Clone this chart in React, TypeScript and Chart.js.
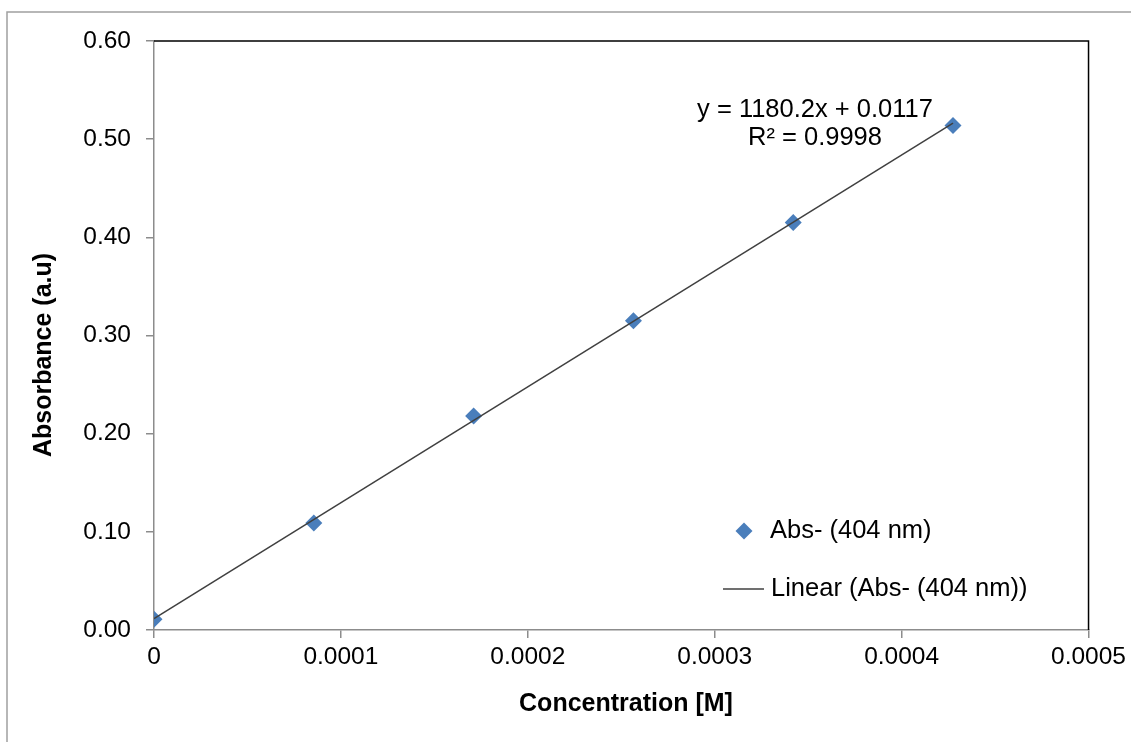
import React, { useEffect, useRef } from "react";
import { Chart, registerables } from "chart.js";

Chart.register(...registerables);

// ---- data ----
const concentration = [0, 0.0000855, 0.000171, 0.0002565, 0.000342, 0.0004275];
const absorbance = [0.011, 0.109, 0.218, 0.315, 0.415, 0.514];
const trendX = [0, 0.0004275];
const trendY = [0.0117, 0.5163];
const xTicks = [0, 0.0001, 0.0002, 0.0003, 0.0004, 0.0005];
const xTickLabels = ["0", "0.0001", "0.0002", "0.0003", "0.0004", "0.0005"];
const yTicks = [0, 0.1, 0.2, 0.3, 0.4, 0.5, 0.6];
const yTickLabels = ["0.00", "0.10", "0.20", "0.30", "0.40", "0.50", "0.60"];
const seriesName = "Abs- (404 nm)";
const trendName = "Linear (Abs- (404 nm))";
const equationLines = ["y = 1180.2x + 0.0117", "R\u00B2 = 0.9998"];
const xTitle = "Concentration [M]";
const yTitle = "Absorbance (a.u)";

const FONT = "'Liberation Sans', Arial, sans-serif";
const MARKER = "#4a7ebb";
const AXIS_GREY = "#8c8c8c";

const decorPlugin = {
  id: "decor",
  beforeDraw(chart: any) {
    const ctx = chart.ctx;
    ctx.save();
    ctx.strokeStyle = "#a0a0a0";
    ctx.lineWidth = 1.5;
    ctx.strokeRect(7, 12, 1200, 800);
    ctx.restore();
  },
  afterDraw(chart: any) {
    const ctx = chart.ctx;
    const { left, right, top, bottom } = chart.chartArea;
    ctx.save();
    // black top/right frame
    ctx.strokeStyle = "#000";
    ctx.lineWidth = 1.5;
    ctx.beginPath();
    ctx.moveTo(left, top);
    ctx.lineTo(right, top);
    ctx.lineTo(right, bottom);
    ctx.stroke();

    // equation text
    ctx.fillStyle = "#000";
    ctx.font = `25.5px ${FONT}`;
    ctx.textAlign = "center";
    ctx.textBaseline = "middle";
    ctx.fillText(equationLines[0], 815, 110);
    ctx.fillText(equationLines[1], 815, 138);

    // legend
    ctx.textAlign = "left";
    ctx.fillStyle = MARKER;
    ctx.beginPath();
    const mx = 744, my = 531, r = 8.5;
    ctx.moveTo(mx, my - r);
    ctx.lineTo(mx + r, my);
    ctx.lineTo(mx, my + r);
    ctx.lineTo(mx - r, my);
    ctx.closePath();
    ctx.fill();
    ctx.fillStyle = "#000";
    ctx.fillText(seriesName, 770, 531);
    ctx.strokeStyle = "#404040";
    ctx.lineWidth = 1.5;
    ctx.beginPath();
    ctx.moveTo(723, 589);
    ctx.lineTo(764, 589);
    ctx.stroke();
    ctx.fillText(trendName, 771, 589);

    // axis titles
    ctx.font = `bold 25px ${FONT}`;
    ctx.textAlign = "center";
    ctx.fillText(xTitle, 626, 704);
    ctx.translate(44, 355);
    ctx.rotate(-Math.PI / 2);
    ctx.fillText(yTitle, 0, 0);
    ctx.restore();
  },
};

export default function App() {
  const ref = useRef<HTMLCanvasElement | null>(null);

  useEffect(() => {
    if (!ref.current) return;
    const tickFont = { family: FONT, size: 24.5 };
    const chart = new Chart(ref.current, {
      type: "scatter",
      data: {
        datasets: [
          {
            label: trendName,
            data: trendX.map((x, i) => ({ x, y: trendY[i] })),
            showLine: true,
            pointRadius: 0,
            borderColor: "#404040",
            borderWidth: 1.5,
            order: 0,
          } as any,
          {
            label: seriesName,
            data: concentration.map((x, i) => ({ x, y: absorbance[i] })),
            pointStyle: "rectRot",
            pointRadius: 8.5,
            pointBackgroundColor: MARKER,
            pointBorderColor: MARKER,
            pointBorderWidth: 0,
            showLine: false,
            order: 1,
          } as any,
        ],
      },
      options: {
        responsive: false,
        animation: false,
        devicePixelRatio: 1,
        layout: { padding: { left: 0, top: 41, right: 41, bottom: 0 } },
        plugins: { legend: { display: false }, tooltip: { enabled: false } },
        scales: {
          x: {
            type: "linear",
            min: 0,
            max: 0.0005,
            afterBuildTicks: (s: any) => {
              s.ticks = xTicks.map((v) => ({ value: v }));
            },
            afterFit: (s: any) => {
              s.height = 112;
            },
            grid: {
              display: true,
              drawOnChartArea: false,
              drawTicks: true,
              tickLength: 8,
              color: AXIS_GREY,
              lineWidth: 1.5,
            },
            border: { display: true, color: AXIS_GREY, width: 1.5 },
            ticks: {
              font: tickFont,
              color: "#000",
              padding: 5,
              maxRotation: 0,
              autoSkip: false,
              callback: (_v: any, i: number) => xTickLabels[i],
            },
          },
          y: {
            type: "linear",
            min: 0,
            max: 0.6,
            afterBuildTicks: (s: any) => {
              s.ticks = yTicks.map((v) => ({ value: v }));
            },
            afterFit: (s: any) => {
              s.width = 154;
            },
            grid: {
              display: true,
              drawOnChartArea: false,
              drawTicks: true,
              tickLength: 8,
              color: AXIS_GREY,
              lineWidth: 1.5,
            },
            border: { display: true, color: AXIS_GREY, width: 1.5 },
            ticks: {
              font: tickFont,
              color: "#000",
              padding: 15,
              autoSkip: false,
              callback: (_v: any, i: number) => yTickLabels[i],
            },
          },
        },
      } as any,
      plugins: [decorPlugin],
    });
    return () => chart.destroy();
  }, []);

  return (
    <div style={{ position: "absolute", left: 0, top: 0, width: 1131, height: 742, background: "#fff" }}>
      <canvas ref={ref} width={1131} height={742} style={{ display: "block" }} />
    </div>
  );
}
